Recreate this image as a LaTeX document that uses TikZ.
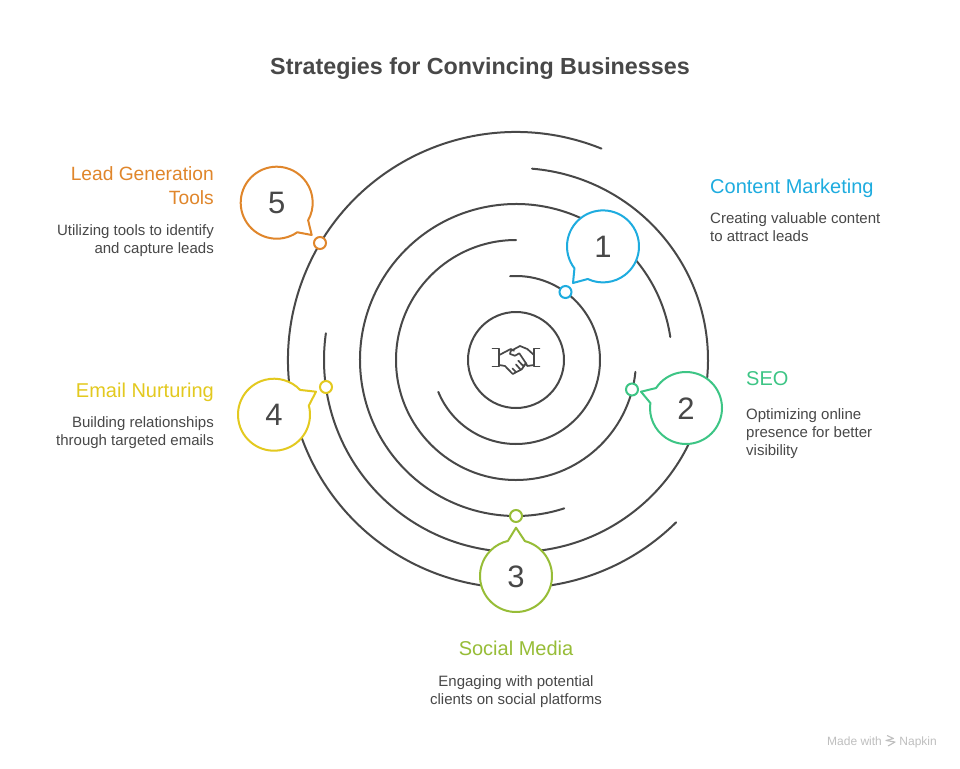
\documentclass[tikz,border=0pt]{standalone}
\usepackage{fontspec}
\usetikzlibrary{calc}
\setmainfont{Liberation Sans}
\definecolor{ink}{HTML}{484848}
\definecolor{cA}{HTML}{1EACDF}
\definecolor{cB}{HTML}{3DC585}
\definecolor{cC}{HTML}{97BD37}
\definecolor{cD}{HTML}{E3C91F}
\definecolor{cE}{HTML}{E0862B}
\tikzset{
  spiral/.style={draw=ink,line width=2pt,line cap=round},
  bubble/.style={line width=2pt,fill=white,line join=round},
  dot/.style={circle,draw=#1,fill=white,line width=2pt,minimum size=12pt,inner sep=0pt},
  num/.style={text=ink,font=\fontsize{31}{31}\selectfont,inner sep=0pt},
  head/.style={text=#1,font=\fontsize{20}{24}\selectfont,inner sep=0pt},
  desc/.style={text=ink,font=\fontsize{15}{18}\selectfont,inner sep=0pt},
  ttl/.style={text=ink,font=\fontsize{23.3}{28}\selectfont\bfseries,inner sep=0pt},
  icon/.style={draw=ink,line width=1.7pt,line cap=round,line join=round},
  logo/.style={draw=black!25,line width=1.1pt,line join=round},
}
\begin{document}
\begin{tikzpicture}[x=1pt,y=-1pt]
\useasboundingbox (0,0) rectangle (960,768);
\fill[white] (0,0) rectangle (960,768);
\coordinate (o) at (516,360);
% spiral arcs
\draw[spiral] (o) circle[radius=48];
\draw[spiral] ($(o)+(-94:84)$) arc[start angle=-94,end angle=157.7,radius=84];
\draw[spiral] ($(o)+(270:120)$) arc[start angle=270,end angle=5.7,radius=120];
\draw[spiral] ($(o)+(351.5:156)$) arc[start angle=351.5,end angle=72,radius=156];
\draw[spiral] ($(o)+(-85.2:192)$) arc[start angle=-85.2,end angle=188,radius=192];
\draw[spiral] ($(o)+(292:228)$) arc[start angle=292,end angle=45.4,radius=228];
% handshake icon
\draw[icon] (492.5,348.5) -- (499.3,348.5) -- (499.3,366.5) -- (492.5,366.5);
\draw[icon] (539.5,348.5) -- (534,348.5) -- (534,366.5) -- (539.5,366.5);
\draw[icon] (499.3,355) -- (510.7,349) -- (514,350.7);
\draw[icon] (534,355) -- (527.3,349) -- (520,346) -- (510.7,351) -- (510,354) -- (515,355.7) -- (519.3,353.3) -- (526,363.3) -- (523.3,366);
\draw[icon] (499.3,365) -- (505,366) -- (512.7,374) -- (521.7,369.3) -- (526,363.3) -- (527.3,366) -- (534,365);
\draw[icon] (518.3,360.7) -- (523.3,366);
\draw[icon] (516,364.5) -- (520.5,369.5);
\draw[icon] (512.5,368.5) -- (516,372);
% bubbles
\coordinate (cA) at (603,246.4);
\coordinate (cB) at (686,408);
\coordinate (cC) at (516,576);
\coordinate (cD) at (274,414.7);
\coordinate (cE) at (276.7,202.7);
\draw[bubble,draw=cA] ($(cA)+(142.5:36)$) arc[start angle=142.5,end angle=475.1,radius=36] -- (573,283) -- cycle;
\draw[bubble,draw=cB] ($(cB)+(213.7:36)$) arc[start angle=213.7,end angle=548,radius=36] -- (641,391.7) -- cycle;
\draw[bubble,draw=cC] ($(cC)+(284.4:36)$) arc[start angle=284.4,end angle=617,radius=36] -- (516,527.7) -- cycle;
\draw[bubble,draw=cD] ($(cD)+(-14.7:36)$) arc[start angle=-14.7,end angle=316.5,radius=36] -- (316,391.7) -- cycle;
\draw[bubble,draw=cE] ($(cE)+(55.2:36)$) arc[start angle=55.2,end angle=389.2,radius=36] -- (311.7,235) -- cycle;
\node[num] (nA) at ($(cA)+(0,0.6)$) {1};
\node[num] (nB) at ($(cB)+(0,0.6)$) {2};
\node[num] (nC) at ($(cC)+(0,0.6)$) {3};
\node[num] (nD) at ($(cD)+(0,0.6)$) {4};
\node[num] (nE) at ($(cE)+(0,0.6)$) {5};
% dots
\node[dot=cA] (dA) at (565.5,292) {};
\node[dot=cB] (dB) at (632,389.5) {};
\node[dot=cC] (dC) at (516,516) {};
\node[dot=cD] (dD) at (326,387) {};
\node[dot=cE] (dE) at (320,243) {};
% text
\node[ttl,anchor=base] (title) at (480,74.5) {Strategies for Convincing Businesses};
\node[head=cA,anchor=base west] (hA) at (710,193) {Content Marketing};
\node[desc,anchor=north west,align=left] (tA) at (710,212.5) {Creating valuable content\\to attract leads};
\node[head=cB,anchor=base west] (hB) at (746,385) {SEO};
\node[desc,anchor=north west,align=left] (tB) at (746,408.5) {Optimizing online\\presence for better\\visibility};
\node[head=cC,anchor=base] (hC) at (516,655) {Social Media};
\node[desc,anchor=north,align=center] (tC) at (516,675.5) {Engaging with potential\\clients on social platforms};
\node[head=cD,anchor=base east] (hD) at (214,397) {Email Nurturing};
\node[desc,anchor=north east,align=right] (tD) at (214,416.5) {Building relationships\\through targeted emails};
\node[head=cE,anchor=north east,align=right,font=\fontsize{19.2}{24}\selectfont] (hE) at (214,166.5) {Lead Generation\\Tools};
\node[desc,anchor=north east,align=right] (tE) at (214,224.5) {Utilizing tools to identify\\and capture leads};
\node[text=black!25,anchor=base west,inner sep=0pt,font=\fontsize{12}{12}\selectfont] (mw) at (827,745) {Made with};
\node[text=black!25,anchor=base east,inner sep=0pt,font=\fontsize{12}{12}\selectfont] (nap) at (937,745) {Napkin};
\draw[logo] (887,735.5) -- (893.5,738.5) -- (886,740.5) -- (895,742) -- (888,746);
\end{tikzpicture}
\end{document}
